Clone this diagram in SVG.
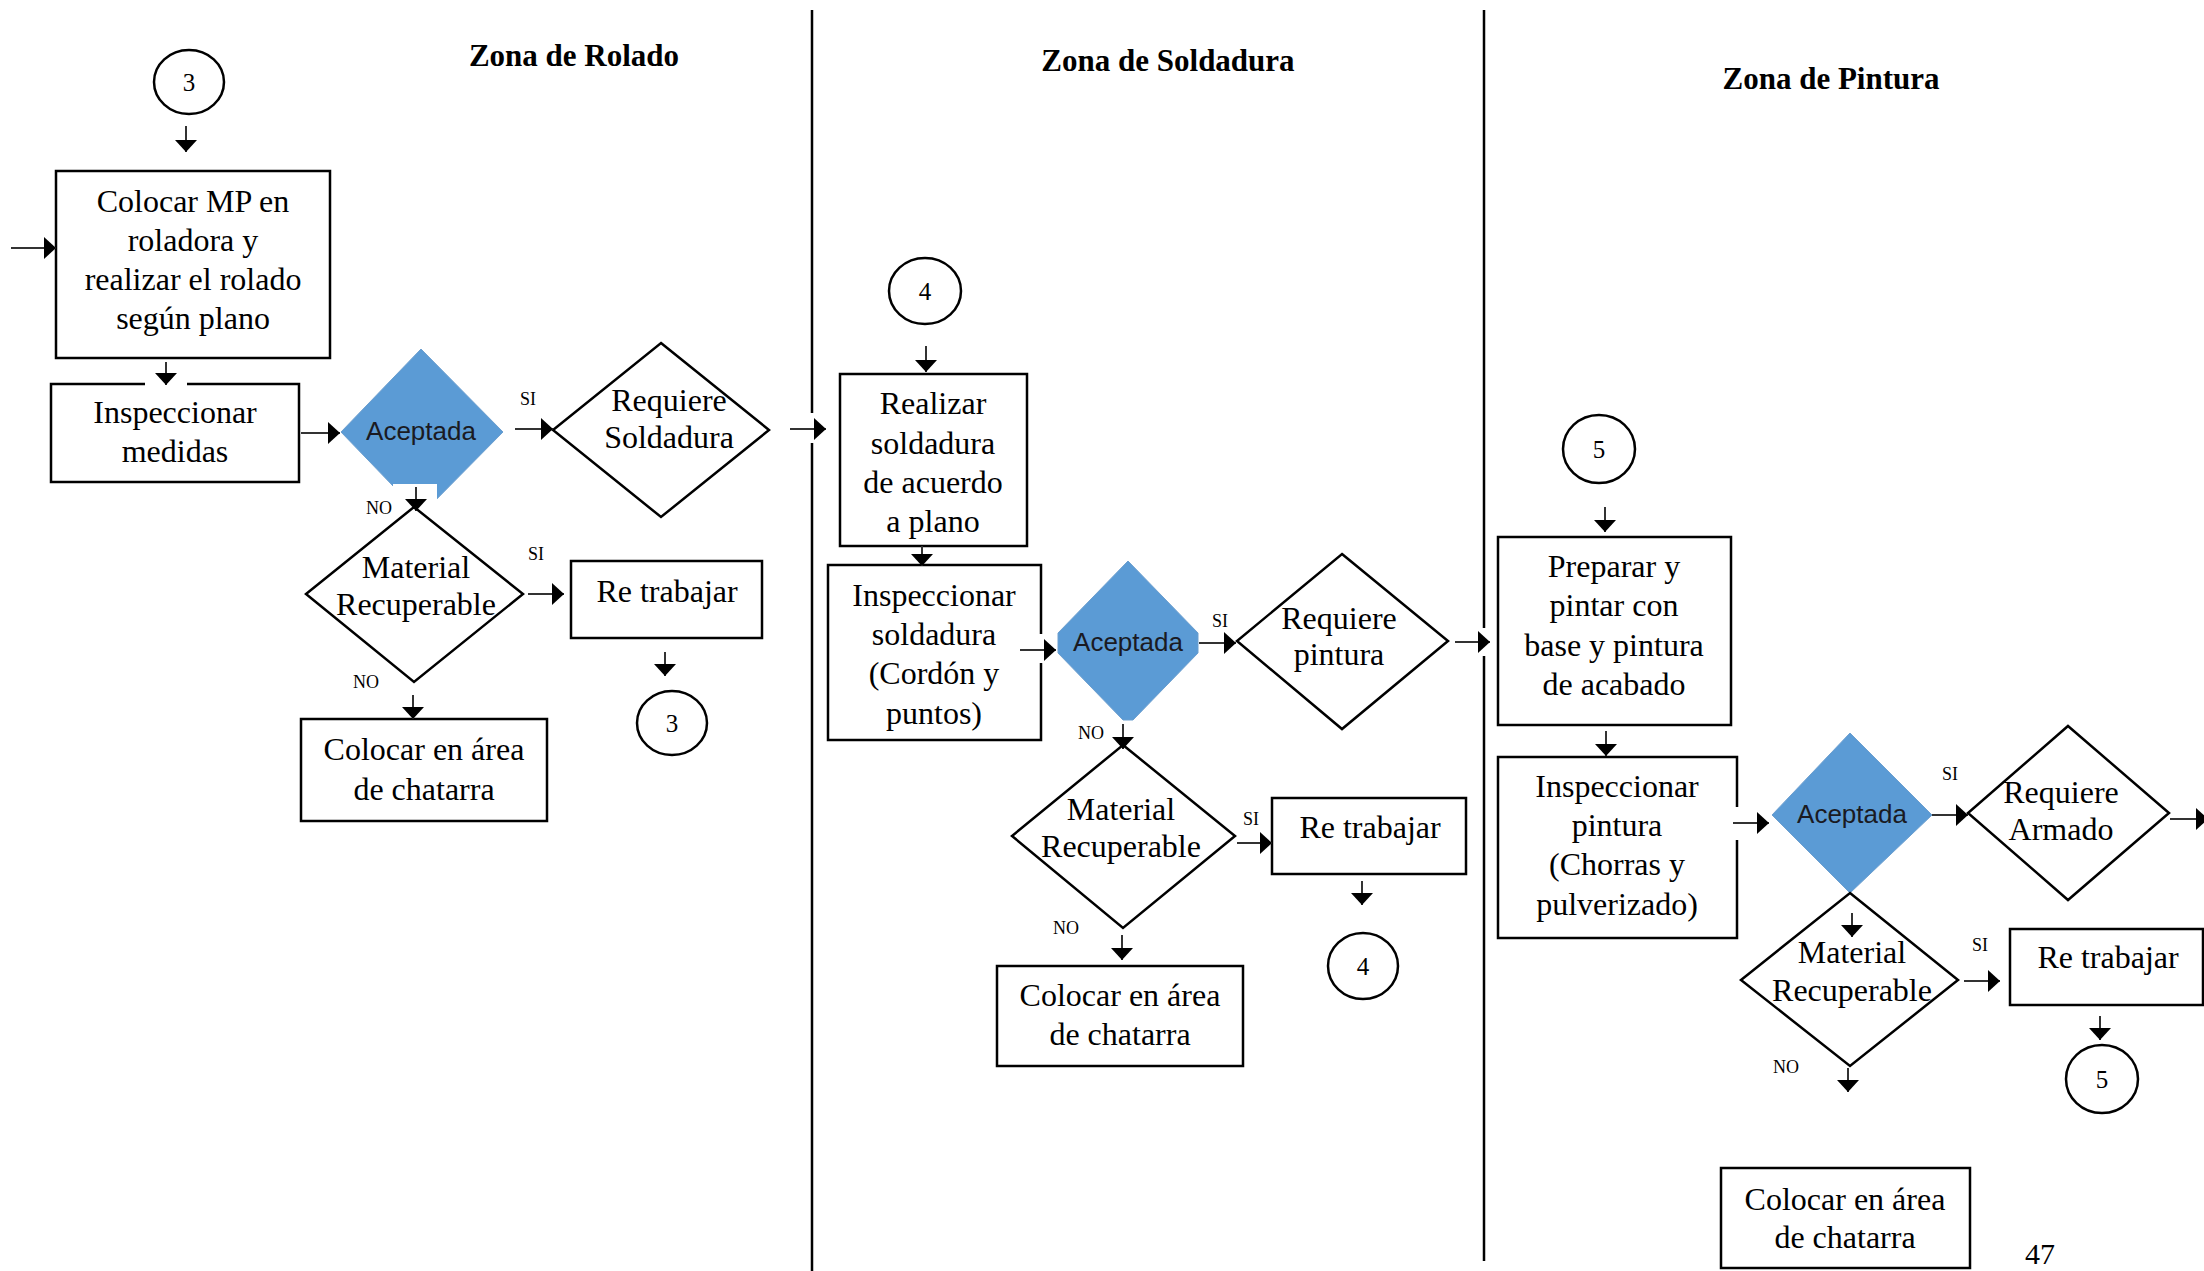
<svg xmlns="http://www.w3.org/2000/svg" width="2204" height="1271" viewBox="0 0 2204 1271">
<defs>
<marker id="ah" viewBox="0 0 12 22" refX="12" refY="11" markerWidth="12" markerHeight="22" markerUnits="userSpaceOnUse" orient="auto"><path d="M0,0L12,11L0,22z" fill="#000"/></marker>
<style>
.box{fill:#fff;stroke:#000;stroke-width:2.5}
.dia{fill:#fff;stroke:#000;stroke-width:2.5}
.acc{fill:#5B9BD5;stroke:#6d9fcf;stroke-width:1}
.t{font-family:"Liberation Serif","Times New Roman",serif;font-size:32px;fill:#000;text-anchor:middle}
.n{font-family:"Liberation Serif","Times New Roman",serif;font-size:25px;fill:#000;text-anchor:middle}
.lbl{font-family:"Liberation Serif","Times New Roman",serif;font-size:18px;fill:#000}
.acct{font-family:"Liberation Sans",Arial,sans-serif;font-size:26px;fill:#1a1a22;text-anchor:middle}
.title{font-family:"Liberation Serif","Times New Roman",serif;font-size:31px;font-weight:bold;fill:#000;text-anchor:middle}
.circ{fill:#fff;stroke:#000;stroke-width:2.5}
.con{stroke:#333;stroke-width:2;fill:none;marker-end:url(#ah)}
.sep{stroke:#000;stroke-width:2.5}
.gap{fill:#fff}
</style>
</defs>
<rect width="2204" height="1271" fill="#fff"/>

<g id="separators">
<line class="sep" x1="812" y1="10" x2="812" y2="413"/>
<line class="sep" x1="812" y1="443" x2="812" y2="1271"/>
<line class="sep" x1="1484" y1="10" x2="1484" y2="628"/>
<line class="sep" x1="1484" y1="656" x2="1484" y2="1261"/>
</g>

<g id="titles">
<text class="title" x="574" y="66">Zona de Rolado</text>
<text class="title" x="1168" y="71">Zona de Soldadura</text>
<text class="title" x="1831" y="89">Zona de Pintura</text>
</g>

<!-- Zona de Rolado -->
<g id="conector-3a"><ellipse class="circ" cx="189" cy="82" rx="35" ry="32"/><text class="n" x="189" y="91">3</text></g>
<g id="colocar-mp"><rect class="box" x="56" y="171" width="274" height="187"/>
<text class="t" x="193" y="212">Colocar MP en</text><text class="t" x="193" y="251">roladora y</text><text class="t" x="193" y="290">realizar el rolado</text><text class="t" x="193" y="329">según plano</text></g>
<g id="inspeccionar-medidas"><rect class="box" x="51" y="384" width="248" height="98"/><rect class="gap" x="145" y="381" width="42" height="6"/>
<text class="t" x="175" y="423">Inspeccionar</text><text class="t" x="175" y="462">medidas</text></g>
<g id="aceptada-1"><polygon class="acc" points="421,349 503,432 421,515 341,432"/><rect class="gap" x="393" y="484" width="44" height="34"/>
<text class="acct" x="421" y="440">Aceptada</text></g>
<g id="requiere-soldadura"><polygon class="dia" points="661,343 769,430 661,517 553,430"/>
<text class="t" x="669" y="411">Requiere</text><text class="t" x="669" y="448">Soldadura</text></g>
<g id="material-1"><polygon class="dia" points="414,507 523,594 414,682 306,594"/>
<text class="t" x="416" y="578">Material</text><text class="t" x="416" y="615">Recuperable</text></g>
<g id="retrabajar-1"><rect class="box" x="571" y="561" width="191" height="77"/><text class="t" x="667" y="602">Re trabajar</text></g>
<g id="conector-3b"><ellipse class="circ" cx="672" cy="723" rx="35" ry="32"/><text class="n" x="672" y="732">3</text></g>
<g id="chatarra-1"><rect class="box" x="301" y="719" width="246" height="102"/>
<text class="t" x="424" y="760">Colocar en área</text><text class="t" x="424" y="800">de chatarra</text></g>

<!-- Zona de Soldadura -->
<g id="conector-4a"><ellipse class="circ" cx="925" cy="291" rx="36" ry="33"/><text class="n" x="925" y="300">4</text></g>
<g id="realizar-soldadura"><rect class="box" x="840" y="374" width="187" height="172"/>
<text class="t" x="933" y="414">Realizar</text><text class="t" x="933" y="454">soldadura</text><text class="t" x="933" y="493">de acuerdo</text><text class="t" x="933" y="532">a plano</text></g>
<g id="inspeccionar-soldadura"><rect class="box" x="828" y="565" width="213" height="175"/><rect class="gap" x="1037" y="634" width="8" height="29"/>
<text class="t" x="934" y="606">Inspeccionar</text><text class="t" x="934" y="645">soldadura</text><text class="t" x="934" y="684">(Cordón y</text><text class="t" x="934" y="724">puntos)</text></g>
<g id="aceptada-2"><polygon class="acc" points="1128,561 1198,633 1198,653 1133,720 1123,720 1058,653 1058,633"/>
<text class="acct" x="1128" y="651">Aceptada</text></g>
<g id="requiere-pintura"><polygon class="dia" points="1342,554 1448,641 1342,729 1237,641"/>
<text class="t" x="1339" y="629">Requiere</text><text class="t" x="1339" y="665">pintura</text></g>
<g id="material-2"><polygon class="dia" points="1123,745 1235,836 1123,928 1012,836"/>
<text class="t" x="1121" y="820">Material</text><text class="t" x="1121" y="857">Recuperable</text></g>
<g id="retrabajar-2"><rect class="box" x="1272" y="798" width="194" height="76"/><text class="t" x="1370" y="838">Re trabajar</text></g>
<g id="conector-4b"><ellipse class="circ" cx="1363" cy="966" rx="35" ry="33"/><text class="n" x="1363" y="975">4</text></g>
<g id="chatarra-2"><rect class="box" x="997" y="966" width="246" height="100"/>
<text class="t" x="1120" y="1006">Colocar en área</text><text class="t" x="1120" y="1045">de chatarra</text></g>

<!-- Zona de Pintura -->
<g id="conector-5a"><ellipse class="circ" cx="1599" cy="449" rx="36" ry="34"/><text class="n" x="1599" y="458">5</text></g>
<g id="preparar-pintar"><rect class="box" x="1498" y="537" width="233" height="188"/>
<text class="t" x="1614" y="577">Preparar y</text><text class="t" x="1614" y="616">pintar con</text><text class="t" x="1614" y="656">base y pintura</text><text class="t" x="1614" y="695">de acabado</text></g>
<g id="inspeccionar-pintura"><rect class="box" x="1498" y="757" width="239" height="181"/><rect class="gap" x="1733" y="807" width="8" height="33"/>
<text class="t" x="1617" y="797">Inspeccionar</text><text class="t" x="1617" y="836">pintura</text><text class="t" x="1617" y="875">(Chorras y</text><text class="t" x="1617" y="915">pulverizado)</text></g>
<g id="aceptada-3"><polygon class="acc" points="1850,733 1932,815 1850,893 1772,815"/>
<text class="acct" x="1852" y="823">Aceptada</text></g>
<g id="requiere-armado"><polygon class="dia" points="2068,726 2169,813 2068,900 1968,813"/>
<text class="t" x="2061" y="803">Requiere</text><text class="t" x="2061" y="840">Armado</text></g>
<g id="material-3"><polygon class="dia" points="1850,893 1958,980 1850,1066 1741,980"/>
<text class="t" x="1852" y="963">Material</text><text class="t" x="1852" y="1001">Recuperable</text></g>
<g id="retrabajar-3"><rect class="box" x="2010" y="929" width="193" height="76"/><text class="t" x="2108" y="968">Re trabajar</text></g>
<g id="conector-5b"><ellipse class="circ" cx="2102" cy="1079" rx="36" ry="34"/><text class="n" x="2102" y="1088">5</text></g>
<g id="chatarra-3"><rect class="box" x="1721" y="1168" width="249" height="100"/>
<text class="t" x="1845" y="1210">Colocar en área</text><text class="t" x="1845" y="1248">de chatarra</text></g>

<g id="labels">
<text class="lbl" x="520" y="405">SI</text>
<text class="lbl" x="528" y="560">SI</text>
<text class="lbl" x="366" y="514">NO</text>
<text class="lbl" x="353" y="688">NO</text>
<text class="lbl" x="1212" y="627">SI</text>
<text class="lbl" x="1243" y="825">SI</text>
<text class="lbl" x="1078" y="739">NO</text>
<text class="lbl" x="1053" y="934">NO</text>
<text class="lbl" x="1942" y="780">SI</text>
<text class="lbl" x="1972" y="951">SI</text>
<text class="lbl" x="1773" y="1073">NO</text>
</g>

<g id="connectors">
<line class="con" x1="11" y1="248" x2="56" y2="248"/>
<line class="con" x1="186" y1="126" x2="186" y2="152"/>
<line class="con" x1="166" y1="362" x2="166" y2="385"/>
<line class="con" x1="301" y1="433" x2="340" y2="433"/>
<line class="con" x1="515" y1="429" x2="553" y2="429"/>
<line class="con" x1="790" y1="429" x2="826" y2="429"/>
<line class="con" x1="416" y1="487" x2="416" y2="511"/>
<line class="con" x1="528" y1="594" x2="564" y2="594"/>
<line class="con" x1="665" y1="652" x2="665" y2="676"/>
<line class="con" x1="413" y1="695" x2="413" y2="719"/>
<line class="con" x1="926" y1="346" x2="926" y2="372"/>
<line class="con" x1="922" y1="546" x2="922" y2="566"/>
<line class="con" x1="1020" y1="650" x2="1056" y2="650"/>
<line class="con" x1="1199" y1="643" x2="1236" y2="643"/>
<line class="con" x1="1455" y1="642" x2="1490" y2="642"/>
<line class="con" x1="1123" y1="724" x2="1123" y2="749"/>
<line class="con" x1="1237" y1="843" x2="1272" y2="843"/>
<line class="con" x1="1362" y1="881" x2="1362" y2="905"/>
<line class="con" x1="1122" y1="935" x2="1122" y2="960"/>
<line class="con" x1="1605" y1="507" x2="1605" y2="532"/>
<line class="con" x1="1606" y1="731" x2="1606" y2="756"/>
<line class="con" x1="1733" y1="823" x2="1769" y2="823"/>
<line class="con" x1="1932" y1="815" x2="1968" y2="815"/>
<line class="con" x1="2170" y1="819" x2="2208" y2="819"/>
<line class="con" x1="1852" y1="913" x2="1852" y2="937"/>
<line class="con" x1="1964" y1="981" x2="2000" y2="981"/>
<line class="con" x1="2100" y1="1016" x2="2100" y2="1040"/>
<line class="con" x1="1848" y1="1068" x2="1848" y2="1092"/>
</g>

<text class="t" x="2040" y="1264" style="font-size:30px">47</text>
</svg>
